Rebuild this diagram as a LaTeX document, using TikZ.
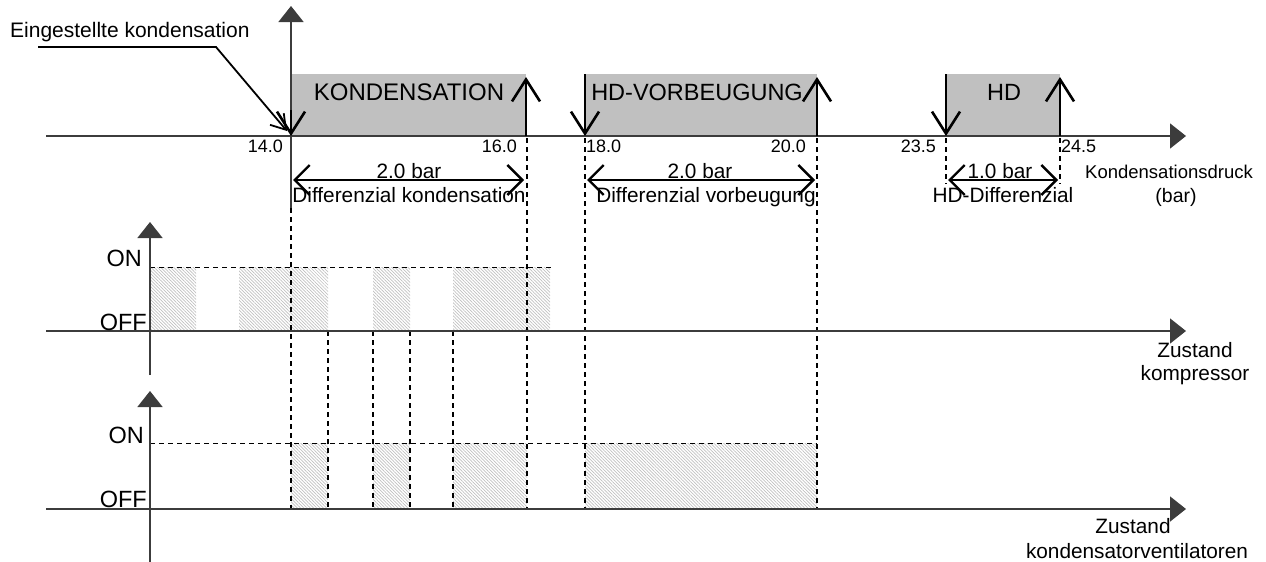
\documentclass[tikz,border=0pt]{standalone}
\usepackage{fontspec}
\setmainfont{Liberation Sans}
\usetikzlibrary{arrows.meta,patterns.meta}
\definecolor{zonegray}{RGB}{192,192,192}
\definecolor{hatchgray}{RGB}{192,192,192}
\definecolor{axisgray}{RGB}{60,60,60}

\tikzset{
  axisline/.style={line width=1.6pt,draw=axisgray,-{Triangle[length=16pt,width=25pt]}},
  dashline/.style={line width=1.1pt,dash pattern=on 5pt off 4pt},
  hatchbox/.style={pattern={Lines[angle=-45,distance=2.3pt,line width=0.7pt]},pattern color=hatchgray},
  switcharrow/.style={line width=2.6pt,-{Straight Barb[length=22pt,width=28pt]}},
  dimarrow/.style={line width=2.4pt,{Straight Barb[length=15pt,width=30pt]}-{Straight Barb[length=15pt,width=30pt]}},
  lbl/.style={inner sep=0pt,font=\fontsize{20.8}{24}\selectfont},
  ticklbl/.style={inner sep=0pt,font=\fontsize{18}{22}\selectfont},
  zonelbl/.style={inner sep=0pt,font=\fontsize{23.5}{28}\selectfont}
}

\begin{document}
\begin{tikzpicture}[x=1pt,y=-1pt]
  \useasboundingbox (0,0) rectangle (1266,562);

  % pressure zones
  \fill[zonegray] (291,74) rectangle (526,136);
  \fill[zonegray] (585,74) rectangle (817,136);
  \fill[zonegray] (946,74) rectangle (1060,136);

  % compressor and fan states
  \foreach \a/\b in {150/196,239/328,373/410,453/550}
    \fill[hatchbox] (\a,267) rectangle (\b,331);
  \foreach \a/\b in {291/328,373/410,453/527,585/817}
    \fill[hatchbox] (\a,443) rectangle (\b,509);

  % limit lines
  \draw[dashline] (291,208) -- (291,509);
  \foreach \x in {527,585,817}
    \draw[dashline] (\x,138) -- (\x,509);
  \foreach \x in {328,373,410,453}
    \draw[dashline] (\x,331) -- (\x,509);
  \foreach \x in {946,1060}
    \draw[dashline] (\x,138) -- (\x,184);
  \draw[dashline,line width=0.9pt] (150,267) -- (552,267);
  \draw[dashline,line width=0.9pt] (150,443) -- (817,443);

  % axes
  \coordinate (p0) at (46,136);
  \coordinate (s14) at (291,136);
  \draw[axisline] (p0) -- (1186,136);
  \draw[axisline] (s14) -- (291,6);
  \draw[line width=1.6pt,draw=axisgray] (s14) -- (291,208);
  \draw[axisline] (46,331) -- (1186,331);
  \draw[axisline] (150,375) -- (150,222);
  \draw[axisline] (46,509) -- (1186,509);
  \draw[axisline] (150,562) -- (150,391);

  % switching points
  \draw[switcharrow] (291,110) -- (s14);
  \draw[switcharrow] (526,136) -- (526,77);
  \draw[switcharrow] (585,74) -- (585,136);
  \draw[switcharrow] (817,136) -- (817,77);
  \draw[switcharrow] (946,74) -- (946,136);
  \draw[switcharrow] (1060,136) -- (1060,77);

  % set point leader
  \node[lbl,anchor=base west,font=\fontsize{21}{25}\selectfont] (setpt) at (10,37) {Eingestellte kondensation};
  \draw[line width=1.8pt,-{Straight Barb[length=14pt,width=18pt]}] (38,47) -- (216,47) -- (287,131);

  % zone names
  \node[zonelbl,anchor=base,font=\fontsize{24}{28}\selectfont] (kond) at (409,100) {KONDENSATION};
  \node[zonelbl,anchor=base] (vorb) at (697,100) {HD-VORBEUGUNG};
  \node[zonelbl,anchor=base] (hd) at (1004,100) {HD};

  % scale values
  \node[ticklbl,anchor=base east] (t14) at (283,152) {14.0};
  \node[ticklbl,anchor=base east] (t16) at (517,152) {16.0};
  \node[ticklbl,anchor=base west] (t18) at (586,152) {18.0};
  \node[ticklbl,anchor=base east] (t20) at (806,152) {20.0};
  \node[ticklbl,anchor=base east] (t235) at (936,152) {23.5};
  \node[ticklbl,anchor=base west] (t245) at (1061,152) {24.5};

  % differentials
  \draw[dimarrow] (293,180) -- (524,180);
  \draw[dimarrow] (587,180) -- (815,180);
  \draw[dimarrow] (948,180) -- (1058,180);
  \node[lbl,anchor=base] (dk) at (409,178) {2.0 bar};
  \node[lbl,anchor=base] (dktxt) at (409,202) {Differenzial kondensation};
  \node[lbl,anchor=base] (dv) at (700,178) {2.0 bar};
  \node[lbl,anchor=base] (dvtxt) at (706,202) {Differenzial vorbeugung};
  \node[lbl,anchor=base] (dh) at (1000,178) {1.0 bar};
  \node[lbl,anchor=base] (dhtxt) at (1003,202) {HD-Differenzial};
  \node[ticklbl,anchor=base,font=\fontsize{18.5}{22}\selectfont] (press) at (1169,178) {Kondensationsdruck};
  \node[ticklbl,anchor=base,font=\fontsize{19.5}{22}\selectfont] (unit) at (1176,202) {(bar)};

  % state labels
  \node[zonelbl,anchor=base east] (con) at (142,266) {ON};
  \node[zonelbl,anchor=base east] (coff) at (147,330) {OFF};
  \node[zonelbl,anchor=base east] (fon) at (144,443) {ON};
  \node[zonelbl,anchor=base east] (foff) at (147,507) {OFF};
  \node[lbl,anchor=base] (comp1) at (1195,357) {Zustand};
  \node[lbl,anchor=base] (comp2) at (1195,380) {kompressor};
  \node[lbl,anchor=base] (fan1) at (1133,533) {Zustand};
  \node[lbl,anchor=base] (fan2) at (1137,558) {kondensatorventilatoren};
\end{tikzpicture}
\end{document}
